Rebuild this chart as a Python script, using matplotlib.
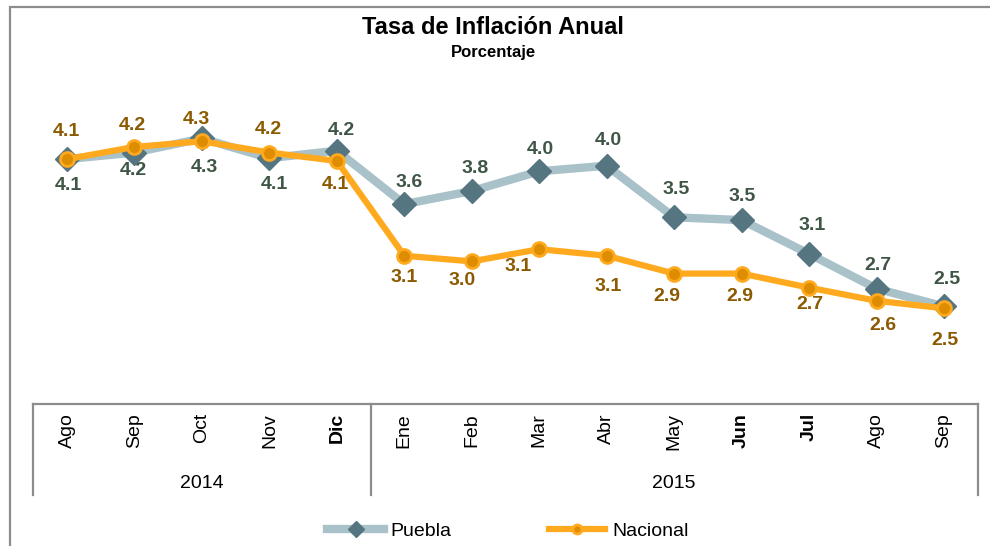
import numpy as np
import matplotlib
matplotlib.use("Agg")
import matplotlib.pyplot as plt
import matplotlib.transforms as mtransforms
from matplotlib.patches import Rectangle

plt.rcParams['font.family'] = ['Liberation Sans', 'DejaVu Sans']

# Data (annual inflation, %)
months = ['Ago', 'Sep', 'Oct', 'Nov', 'Dic', 'Ene', 'Feb', 'Mar', 'Abr', 'May', 'Jun', 'Jul', 'Ago', 'Sep']
bold_months = [4, 10, 11]
years = ['2014', '2015']
year_groups = [(0, 4), (5, 13)]
puebla = [4.11, 4.18, 4.33, 4.12, 4.20, 3.63, 3.77, 3.98, 4.04, 3.49, 3.46, 3.10, 2.73, 2.54]
nacional = [4.11, 4.24, 4.30, 4.18, 4.09, 3.08, 3.02, 3.15, 3.08, 2.89, 2.89, 2.74, 2.60, 2.52]

# label offsets in pixels (dx, dy)
puebla_off = [(1, -26), (-1, -18), (2, -29), (5, -26), (4, 20), (5, 22), (3, 23), (1, 22),
              (2, 25), (2, 28), (1, 24), (3, 28), (1, 23), (3, 27)]
nacional_off = [(-1, 28), (-2, 21), (-6, 22), (-1, 23), (-1, -24), (0, -22), (-10, -19), (-21, -17),
                (1, -31), (-7, -23), (-2, -23), (1, -17), (6, -25), (1, -32)]

c_puebla_line = '#A9C1C8'
c_puebla_mk = '#557581'
c_puebla_txt = '#3F5646'
c_nac_line = '#FFAA1E'
c_nac_mk = '#DE8C00'
c_nac_txt = '#8C5A00'
c_frame = '#8C8C8C'

W, H = 990, 546
fig = plt.figure(figsize=(W / 100, H / 100), dpi=100)
fig.patch.set_facecolor('white')

# outer frame (right/bottom edges fall off the picture)
fig.patches.append(Rectangle((10 / W, -0.2), 1.2, (H - 7) / H + 0.2, transform=fig.transFigure,
                             fill=False, edgecolor=c_frame, linewidth=1.6))

ax_left, ax_right = 33.3 / W, 977.7 / W
ax_bot, ax_top = (H - 404) / H, (H - 75.6) / H
ax = fig.add_axes([ax_left, ax_bot, ax_right - ax_left, ax_top - ax_bot])
x = np.arange(len(months))

ax.plot(x, puebla, color=c_puebla_line, lw=6, marker='D', markersize=12,
        markerfacecolor=c_puebla_mk, markeredgecolor=c_puebla_mk, label='Puebla', zorder=2)
ax.plot(x, nacional, color=c_nac_line, lw=4.5, marker='o', markersize=10,
        markerfacecolor=c_nac_mk, markeredgecolor=c_nac_line, markeredgewidth=2,
        label='Nacional', zorder=3)

for i in range(len(months)):
    ax.annotate(f'{puebla[i]:.1f}', (x[i], puebla[i]), xytext=puebla_off[i], textcoords='offset pixels',
                ha='center', va='center', fontsize=14, fontweight='bold', color=c_puebla_txt)
    ax.annotate(f'{nacional[i]:.1f}', (x[i], nacional[i]), xytext=nacional_off[i], textcoords='offset pixels',
                ha='center', va='center', fontsize=14, fontweight='bold', color=c_nac_txt)

ax.set_xlim(-0.5, len(months) - 0.5)
ax.set_ylim(1.5, 5.0)
ax.set_yticks([])
for s in ['left', 'right', 'top']:
    ax.spines[s].set_visible(False)
ax.spines['bottom'].set_color(c_frame)
ax.spines['bottom'].set_linewidth(1.6)

ax.set_xticks(x)
ax.set_xticklabels(months, rotation=90, fontsize=14, va='top', ha='center')
ax.tick_params(axis='x', length=0, pad=6.5)
for i, lbl in enumerate(ax.get_xticklabels()):
    if i in bold_months:
        lbl.set_fontweight('bold')

# category group boxes
trans = mtransforms.blended_transform_factory(ax.transData, ax.transAxes)
ax_h = 404 - 75.6
box_depth = (495 - 404) / ax_h
for xb in [-0.5, 4.5, len(months) - 0.5]:
    ax.plot([xb, xb], [0, -box_depth], transform=trans, color=c_frame, lw=1.6, clip_on=False)
for yr, (a, b) in zip(years, year_groups):
    ax.text((a + b) / 2, -(483 - 404) / ax_h, yr, transform=trans, ha='center', va='center', fontsize=14)

fig.text(0.498, (H - 27) / H, 'Tasa de Inflación Anual', ha='center', va='center',
         fontsize=17, fontweight='bold')
fig.text(0.498, (H - 53) / H, 'Porcentaje', ha='center', va='center', fontsize=12, fontweight='bold')

fig.legend(loc='center', bbox_to_anchor=(0.513, (H - 531) / H), ncol=2, frameon=False,
           fontsize=14, handlelength=2.9, handletextpad=0.35, columnspacing=5.0, markerscale=0.65)

fig.savefig('out.png', dpi=100, facecolor='white')
